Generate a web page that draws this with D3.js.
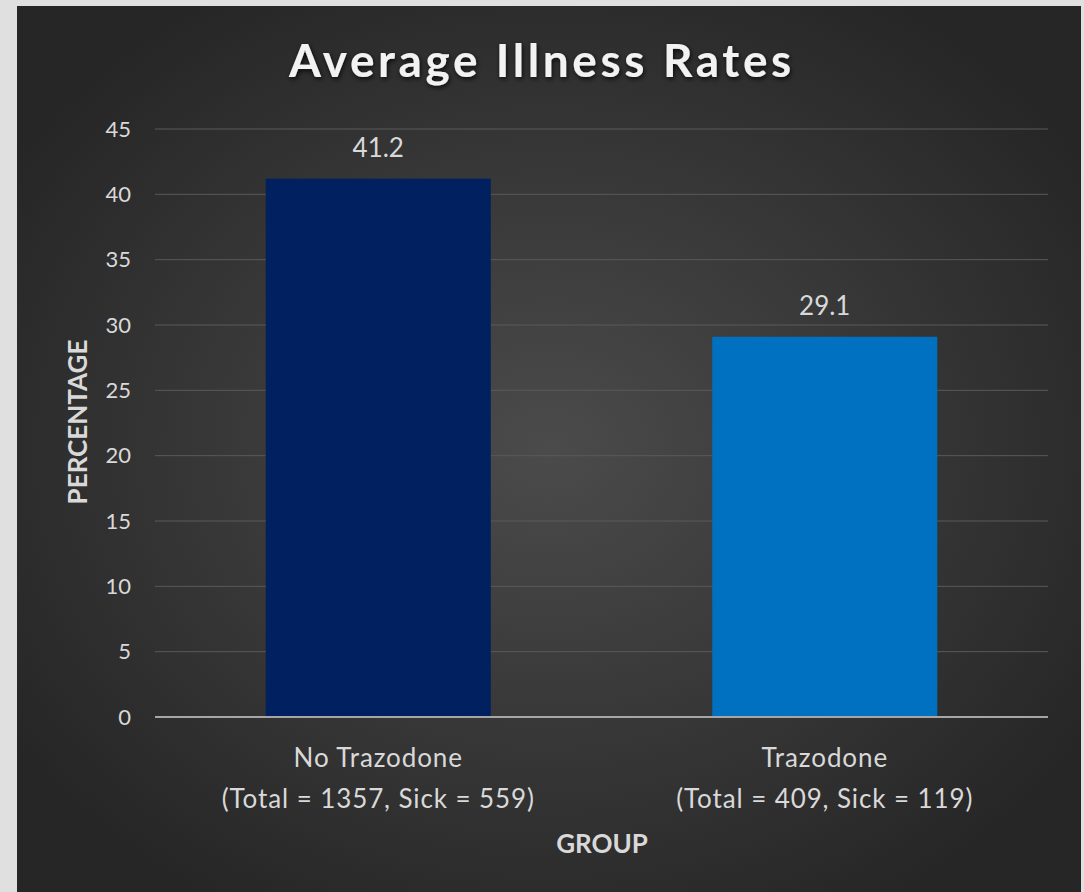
<!DOCTYPE html>
<html>
<head>
<meta charset="utf-8">
<script src="https://cdn.jsdelivr.net/npm/d3@7"></script>
<style>
  body { margin: 0; background: #e0e0e0; }
  svg { display: block; }
</style>
</head>
<body>
<div class="canvas"></div>
<script>
const categories = ['No Trazodone', 'Trazodone'];
const subLabels = ['(Total = 1357, Sick = 559)', '(Total = 409, Sick = 119)'];
const values = [41.2, 29.1];
const barColours = ['#002060', '#0070c0'];
const yTicks = [0, 5, 10, 15, 20, 25, 30, 35, 40, 45];

const W = 1084, H = 892;
const font = 'Lato, "Open Sans", sans-serif';

const svg = d3.select('.canvas').append('svg')
    .attr('width', W)
    .attr('height', H);

// dark panel with a soft radial light in the middle
const defs = svg.append('defs');
const grad = defs.append('radialGradient')
    .attr('id', 'bg')
    .attr('cx', '50%').attr('cy', '50%').attr('r', '60%');
grad.append('stop').attr('offset', '0%').attr('stop-color', '#4b4b4b');
grad.append('stop').attr('offset', '100%').attr('stop-color', '#262626');

const glow = defs.append('filter').attr('id', 'glow')
    .attr('x', '-10%').attr('y', '-30%').attr('width', '120%').attr('height', '160%');
glow.append('feGaussianBlur').attr('in', 'SourceAlpha').attr('stdDeviation', 2.5).attr('result', 'b');
glow.append('feFlood').attr('flood-color', '#000').attr('flood-opacity', 0.8);
glow.append('feComposite').attr('in2', 'b').attr('operator', 'in').attr('result', 's');
glow.append('feOffset').attr('in', 's').attr('dx', 1).attr('dy', 2).attr('result', 'o');
const merge = glow.append('feMerge');
merge.append('feMergeNode').attr('in', 'o');
merge.append('feMergeNode').attr('in', 'SourceGraphic');

svg.append('rect')
    .attr('x', 17).attr('y', 6)
    .attr('width', 1064).attr('height', H - 6)
    .attr('fill', 'url(#bg)');

const plot = {left: 155, right: 1048, top: 129, bottom: 717};

const x = d3.scaleBand()
    .domain(categories)
    .range([plot.left, plot.right])
    .paddingInner(0.496)
    .paddingOuter(0.248);

const y = d3.scaleLinear()
    .domain([0, 45])
    .range([plot.bottom, plot.top]);

// gridlines
svg.append('g')
  .selectAll('line')
  .data(yTicks.filter(d => d > 0))
  .enter().append('line')
    .attr('x1', plot.left).attr('x2', plot.right)
    .attr('y1', d => y(d)).attr('y2', d => y(d))
    .attr('stroke', '#5a5a5a')
    .attr('stroke-width', 1);

// y axis labels
const yAxis = svg.append('g')
    .attr('transform', `translate(${plot.left},0)`)
    .call(d3.axisLeft(y).tickValues(yTicks).tickSize(0).tickPadding(24));
yAxis.select('.domain').remove();
yAxis.selectAll('text')
    .attr('fill', '#d9d9d9')
    .style('font-family', font)
    .style('font-size', '22px');

// bars
svg.append('g')
  .selectAll('rect')
  .data(values)
  .enter().append('rect')
    .attr('x', (d, i) => x(categories[i]))
    .attr('y', d => y(d))
    .attr('width', x.bandwidth())
    .attr('height', d => y(0) - y(d))
    .attr('fill', (d, i) => barColours[i]);

// value labels
svg.append('g')
  .selectAll('text')
  .data(values)
  .enter().append('text')
    .attr('x', (d, i) => x(categories[i]) + x.bandwidth() / 2)
    .attr('y', d => y(d) - 22)
    .attr('text-anchor', 'middle')
    .attr('fill', '#d9d9d9')
    .style('font-family', font)
    .style('font-size', '26px')
    .text(d => d.toFixed(1));

// baseline
svg.append('line')
    .attr('x1', plot.left).attr('x2', plot.right)
    .attr('y1', y(0)).attr('y2', y(0))
    .attr('stroke', '#a6a6a6')
    .attr('stroke-width', 2);

// category labels (two lines)
const cat = svg.append('g')
  .selectAll('text')
  .data(categories)
  .enter().append('text')
    .attr('text-anchor', 'middle')
    .attr('fill', '#d9d9d9')
    .style('font-family', font)
    .style('font-size', '26px')
    .style('letter-spacing', '0.9px');
cat.append('tspan')
    .attr('x', d => x(d) + x.bandwidth() / 2)
    .attr('y', 767)
    .text(d => d);
cat.append('tspan')
    .attr('x', d => x(d) + x.bandwidth() / 2)
    .attr('y', 808)
    .text((d, i) => subLabels[i]);

// axis titles
svg.append('text')
    .attr('x', 602).attr('y', 853)
    .attr('text-anchor', 'middle')
    .attr('fill', '#d9d9d9')
    .style('font-family', font)
    .style('font-weight', 'bold')
    .style('font-size', '26px')
    .text('GROUP');

svg.append('text')
    .attr('transform', 'translate(87, 422) rotate(-90)')
    .attr('text-anchor', 'middle')
    .attr('fill', '#d9d9d9')
    .style('font-family', font)
    .style('font-weight', 'bold')
    .style('font-size', '26px')
    .text('PERCENTAGE');

// chart title
svg.append('text')
    .attr('x', 542).attr('y', 77)
    .attr('text-anchor', 'middle')
    .attr('fill', '#f2f2f2')
    .attr('filter', 'url(#glow)')
    .style('font-family', font)
    .style('font-weight', 'bold')
    .style('font-size', '46px')
    .style('letter-spacing', '3.6px')
    .text('Average Illness Rates');
</script>
</body>
</html>
